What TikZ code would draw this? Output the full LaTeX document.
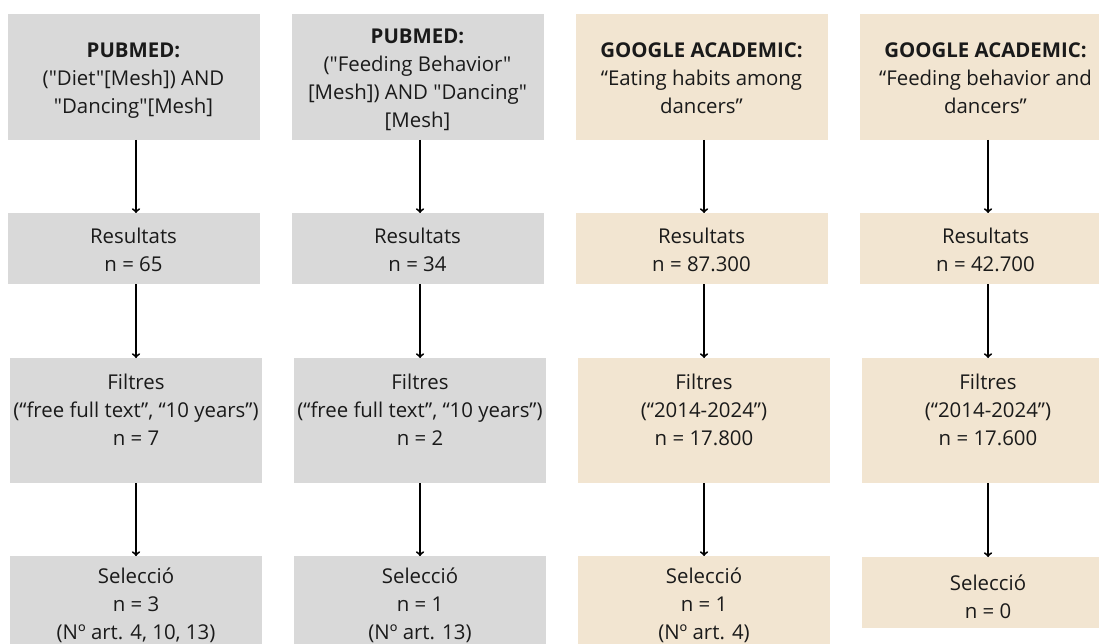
\documentclass[tikz,border=0pt]{standalone}
\usepackage{fontspec}
\setmainfont{Open Sans}[Ligatures=TeXOff]
\usepackage{xcolor}
\usepackage{tikz}
\usetikzlibrary{arrows}
\usetikzlibrary{positioning}
\definecolor{pubmedbg}{HTML}{D9D9D9}
\definecolor{googlebg}{HTML}{F2E5D1}
\definecolor{ink}{HTML}{1A1A1A}
\newcommand{\boxfont}{\fontsize{20.4}{28}\selectfont}

\begin{document}
\begin{tikzpicture}[
  x=1pt, y=-1pt,
  dep/.style ={
    ->,line width=1.9pt
  },
  stage/.style 2 args={
    rectangle,
    fill=#2,
    minimum width=252pt,
    minimum height=#1,
    inner sep=0pt,
    outer sep=0pt},
  txt/.style={
    align=center,
    font=\boxfont,
    text=ink,
    inner sep=0pt,
    execute at begin node=\strut,
    execute at end node=\strut},
]

  \def\colstep{284}%
  \def\colbase{136}%
  \def\rowA{77}%
  \def\rowB{248.5}%
  \def\rowC{420.5}%
  \def\rowD{618.5}%

  \clip (0,0) rectangle (1099,644);

    % Search queries
  \foreach \i/\fillc [count=\k from 0] in
      {1/pubmedbg, 2/pubmedbg, 3/googlebg, 4/googlebg} {
    \node[stage={126pt}{\fillc}] (query\i) at ({\colbase+\colstep*\k-2.5}, \rowA) {};
  }
  \node[txt, yshift=-5.5pt] (querytxt1) at (query1.center)
    {\textbf{PUBMED:}\\("Diet"[Mesh]) AND\\"Dancing"[Mesh]};
  \node[txt, yshift=-5.5pt] (querytxt2) at (query2.center)
    {\textbf{PUBMED:}\\("Feeding Behavior"\\{}[Mesh]) AND "Dancing"\\{}[Mesh]};
  \node[txt, yshift=-5.5pt] (querytxt3) at (query3.center)
    {\textbf{GOOGLE ACADEMIC:}\\“Eating habits among\\dancers”};
  \node[txt, yshift=-5.5pt] (querytxt4) at (query4.center)
    {\textbf{GOOGLE ACADEMIC:}\\“Feeding behavior and\\dancers”};

    % Results
  \foreach \i/\fillc/\nres [count=\k from 0] in
      {1/pubmedbg/65, 2/pubmedbg/34, 3/googlebg/87.300, 4/googlebg/42.700} {
    \node[stage={71pt}{\fillc}] (res\i) at ({\colbase+\colstep*\k-2.5}, \rowB) {};
    \node[txt, below=15pt of res\i.north] (restxt\i) {Resultats\\n = \nres};
  }

    % Filters
  \foreach \i/\fillc/\filt/\nfilt [count=\k from 0] in
      {1/pubmedbg/{(“free full text”, “10 years”)}/7,
       2/pubmedbg/{(“free full text”, “10 years”)}/2,
       3/googlebg/{(“2014-2024”)}/17.800,
       4/googlebg/{(“2014-2024”)}/17.600} {
    \node[stage={125pt}{\fillc}] (filt\i) at ({\colbase+\colstep*\k}, \rowC) {};
    \node[txt, below=15.5pt of filt\i.north] (filttxt\i) {Filtres\\\filt\\n = \nfilt};
  }

    % Selection
  \foreach \i/\fillc/\nsel/\arts [count=\k from 0] in
      {1/pubmedbg/3/{4, 10, 13}, 2/pubmedbg/1/13, 3/googlebg/1/4} {
    \node[stage={125pt}{\fillc}] (sel\i) at ({\colbase+\colstep*\k}, \rowD) {};
    \node[txt, below=11.5pt of sel\i.north] (seltxt\i) {Selecció\\n = \nsel\\(Nº art. \arts)};
  }
  \node[stage={71pt}{googlebg}] (sel4) at ({\colbase+3*\colstep}, 592.5) {};
  \node[txt, below=18pt of sel4.north] (seltxt4) {Selecció\\n = 0};

  \foreach \i in {1,...,4} {
    \draw[dep] (query\i.south -| filt\i.north) to (res\i.north -| filt\i.north);
    \draw[dep] (res\i.south -| filt\i.north) to (filt\i.north);
    \draw[dep] (filt\i.south) to (sel\i.north);
  }

\end{tikzpicture}
\end{document}
